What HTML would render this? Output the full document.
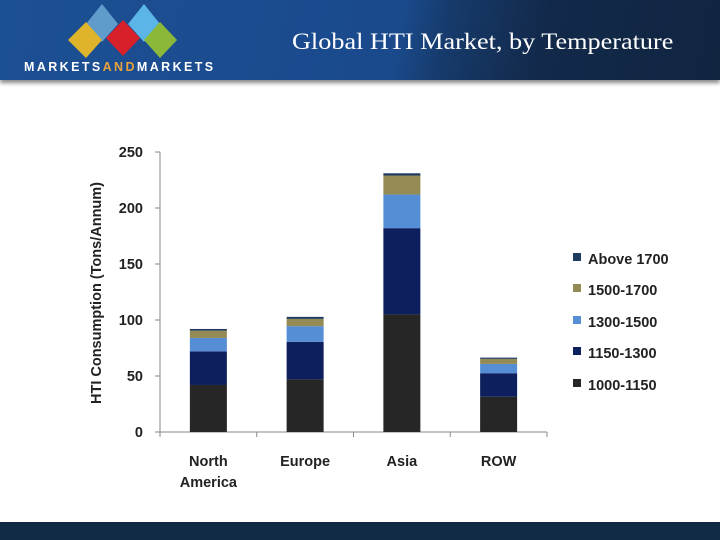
<!DOCTYPE html>
<html><head><meta charset="utf-8"><style>
html,body{margin:0;padding:0;}
body{width:720px;height:540px;position:relative;overflow:hidden;background:#fff;font-family:"Liberation Sans",sans-serif;}
#hdr{position:absolute;left:0;top:0;width:720px;height:80px;background:linear-gradient(100deg,#1d4f94 0%,#1a4a8c 55%,#163a6a 62%,#12294a 75%,#102540 100%);box-shadow:0 3px 4px #888;}
#title{position:absolute;left:292px;top:29px;color:#fff;font-family:"Liberation Serif",serif;font-size:23px;transform:scaleX(1.14);transform-origin:left top;white-space:nowrap;}
#brand{position:absolute;left:24px;top:60px;color:#fff;font-weight:bold;font-size:12.5px;letter-spacing:2.4px;}
#foot{position:absolute;left:0;top:522px;width:720px;height:18px;background:#112a45;}
</style></head><body>
<div id="hdr">
<svg width="220" height="62" style="position:absolute;left:60px;top:0">
<polygon points="42,4 58,24 42,42 26,24" fill="#5f9ccc"/>
<polygon points="84,4 100,24 84,42 68,24" fill="#5bb5e6"/>
<polygon points="26,22 42,40 26,58 8,40" fill="#e0b42a"/>
<polygon points="63,20 80,38 63,56 46,38" fill="#d8202a"/>
<polygon points="100,22 117,40 100,58 84,40" fill="#8cb83a"/>
</svg>
<div id="brand">MARKETS<span style="color:#e9a23b">AND</span>MARKETS</div>
<div id="title">Global HTI Market, by Temperature</div>
</div>
<svg id="chart" width="720" height="540" style="position:absolute;left:0;top:0"></svg>
<div id="foot"></div>
<script>
const categories=["North America","Europe","Asia","ROW"];
const seriesNames=["1000-1150","1150-1300","1300-1500","1500-1700","Above 1700"];
const s1000=[42,47,105,31.5];
const s1150=[30,33.5,77,21];
const s1300=[12,14,30,8.3];
const s1500=[6.5,6.5,17,4.5];
const s1700=[1.5,1.8,2,1.1];
const yTicks=[0,50,100,150,200,250];
const colors=["#262626","#0d1f5c","#558ed5","#948a54","#1f3a5f"];
const series=[s1000,s1150,s1300,s1500,s1700];
const NS="http://www.w3.org/2000/svg";
const svg=document.getElementById('chart');
const x0=160,x1=547,yb=432,yt=152,ymax=250;
const y=v=>yb-(v/ymax)*(yb-yt);
const band=(x1-x0)/categories.length;
const xc=i=>x0+band*(i+0.5);
function mk(t,a){const e=document.createElementNS(NS,t);for(const k in a)e.setAttribute(k,a[k]);svg.appendChild(e);return e;}
let e;
e=mk('line',{x1:x0,y1:yt,x2:x0,y2:yb,stroke:'#888','stroke-width':1});


e=mk('line',{x1:x0,y1:yb,x2:x1,y2:yb,stroke:'#888','stroke-width':1});


yTicks.forEach(t=>{
 mk('line',{x1:x0-5,y1:y(t),x2:x0,y2:y(t),stroke:'#888'});
 e=mk('text',{x:143,y:y(t)+5,'text-anchor':'end','font-size':14.5,'font-weight':'bold',fill:'#222'});
 e.textContent=t;
 
 
});
for(let i=0;i<=categories.length;i++)mk('line',{x1:x0+band*i,y1:yb,x2:x0+band*i,y2:yb+5,stroke:'#888'});
categories.forEach((c,i)=>{
 let cum=0;
 series.forEach((s,k)=>{
  const r=mk('rect',{x:xc(i)-18.5,y:y(cum+s[i]),width:37,height:y(cum)-y(cum+s[i]),fill:colors[k]});
  
  
  cum+=s[i];
 });
 const words=c.split(' ');
 words.forEach((w,j)=>{
  const t=mk('text',{x:xc(i),y:466+j*21,'text-anchor':'middle','font-size':14.5,'font-weight':'bold',fill:'#222'});
  t.textContent=w;
  
  
 });
});
e=mk('text',{x:0,y:0,transform:'translate(101,293) rotate(-90)','text-anchor':'middle','font-size':14.5,'font-weight':'bold',fill:'#222'});
e.textContent='HTI Consumption  (Tons/Annum)';


const legY=[385,353,322,290,259];
seriesNames.forEach((n,k)=>{
 const r=mk('rect',{x:573,y:legY[k]-6,width:8,height:8,fill:colors[k]});
 
 
 const t=mk('text',{x:588,y:legY[k]+5,'font-size':14.5,'font-weight':'bold',fill:'#222'});
 t.textContent=n;
 
 
});
</script>
</body></html>
